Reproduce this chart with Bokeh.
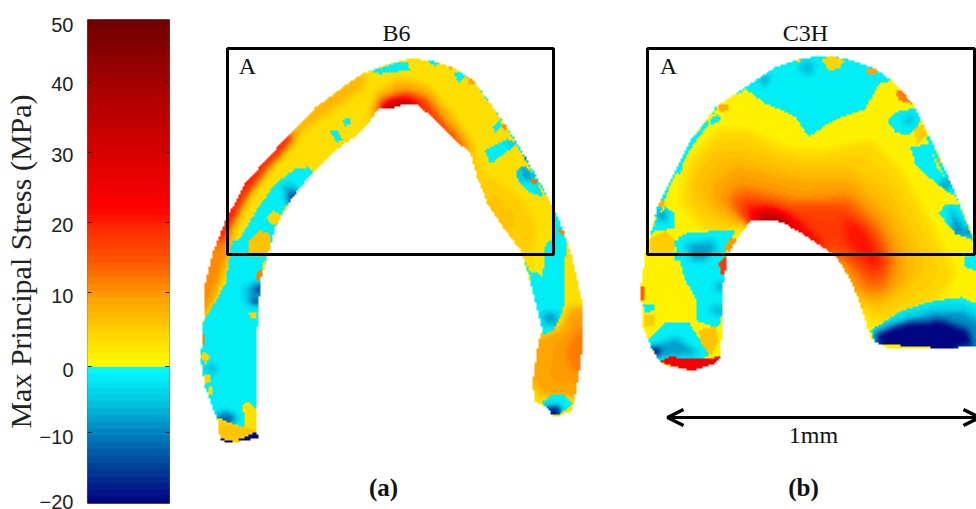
import numpy as np
from bokeh.embed import file_html
from bokeh.resources import INLINE
from bokeh.layouts import row
from bokeh.plotting import figure
from bokeh.models import Range1d, LinearColorMapper, FixedTicker, Arrow, OpenHead
from bokeh.core.properties import value as val

# ---------- scale ----------
stress_levels = list(range(-20, 50))
bar_anchor_mpa = [-20, 0, 50]
bar_anchor_y = [502.7, 366, 19.3]
tick_labels = ["50", "40", "30", "20", "10", "0", "\u221210", "\u221220"]
label_y = [24, 83, 154, 224, 295, 369, 436, 501]
tick_mark_y = [82, 152, 222, 292, 366, 432]
stops_mpa = [-20, -15, -10, -5, -0.001, 0, 5, 10, 15, 20, 23, 30, 40, 50]
stops_r = [0, 0, 0, 0, 0, 255, 255, 255, 255, 255, 255, 220, 170, 110]
stops_g = [0, 60, 125, 200, 255, 255, 210, 160, 90, 40, 0, 0, 0, 0]
stops_b = [128, 150, 190, 225, 255, 0, 0, 0, 0, 0, 0, 0, 0, 0]

palette = []
for lv in stress_levels:
    m = lv + 0.5
    palette.append("#%02x%02x%02x" % (int(np.interp(m, stops_mpa, stops_r)),
                                      int(np.interp(m, stops_mpa, stops_g)),
                                      int(np.interp(m, stops_mpa, stops_b))))
mapper = LinearColorMapper(palette=palette, low=-20, high=50, nan_color=(0, 0, 0, 0))

# ---------- outlines and stress regions ----------
Z2, Z3, Z4, Z5, Z6 = (195, 40), (390, 40), (195, 240), (635, 40), (635, 240)
def at(o, pts):
    return [(o[0] + a / 3, o[1] + b / 3) for a, b in pts]

b6_outline = [(220,440),(232,443),(258,437),(257,433),(257,327),(260,280),(267,257),(268,253),(275,227),(292,197),
              (312,172),(335,150),(352,138),(368,123),(378,108),(390,108),(400,105),(418,105),(433,118),(452,137),
              (470,153),(477,177),(487,203),(503,227),(520,250),(523,258),(530,283),(542,330),(538,340),(532,383),
              (535,402),(548,408),(553,417),(560,415),(572,410),(578,377),(583,340),(583,307),(573,263),(572,257),
              (563,230),(553,207),(540,183),(523,153),(507,127),(490,103),(473,80),(453,67),(430,60),(410,58),
              (390,63),(362,73),(342,87),(315,107),(288,135),(265,160),(245,183),(225,220),(212,253),(205,283),
              (202,340),(200,357),(205,387),(217,420)]
b6_base = 3.0
b6_warm = [
    (6, at(Z3, [(290,400),(400,480),(440,560),(420,640),(350,590),(290,490)])),
    (8, at(Z2, [(50,650),(90,540),(150,430),(210,360),(280,285),(360,200),(440,140),(500,100),(520,130),(440,190),(340,260),(250,340),(170,440),(120,550),(100,650)])),
    (22, at(Z2, [(40,650),(85,530),(145,425),(205,355),(280,280),(300,295),(225,375),(150,475),(100,570),(75,650)])),
    (12, at(Z4, [(40,0),(20,130),(15,240),(30,240),(70,130),(100,40),(100,0)])),
    (9, [(365,122),(376,92),(400,78),(428,86),(450,112),(470,140),(480,170),(490,204),(470,153),(452,137),(433,118),(418,105),(390,108),(378,108)]),
    (20, [(370,118),(382,100),(405,92),(425,98),(440,118),(456,136),(470,153),(452,142),(433,122),(418,107),(390,110),(378,110)]),
    (42, [(378,109),(390,102),(402,100),(414,102),(420,107),(405,108),(390,110)]),
    (16, at(Z3, [(240,340),(260,410),(290,490),(340,560),(320,560),(270,490),(245,410),(220,340)])),
    (10, at(Z4, [(1035,290),(1100,260),(1120,200),(1165,200),(1165,320),(1150,420),(1140,470),(1040,470),(1015,430),(1025,340)])),
    (13, at(Z4, [(1110,330),(1170,230),(1170,380),(1130,400)])),
    (7, at(Z4, [(25,580),(70,545),(180,555),(190,580),(100,600)])),
]
b6_cold_regions = [
    at(Z2, [(115,660),(130,600),(190,500),(240,430),(300,385),(340,380),(355,400),(300,470),(270,500),(250,540),(225,660)]),
    at(Z4, [(110,0),(90,130),(45,210),(20,250),(8,400),(60,530),(140,560),(185,560),(190,250),(205,50),(225,0)]),
    at(Z4, [(985,60),(1010,100),(1040,90),(1045,30),(1060,0),(1100,0),(1105,60),(1110,170),(1100,220),(1075,270),(1040,285),(1030,240),(1010,180),(1005,110)]),
    at(Z3, [(490,500),(520,540),(530,650),(460,640),(490,600)]),
    at(Z4, [(1040,485),(1070,462),(1110,465),(1130,490),(1090,525),(1060,525)]),
    at(Z4, [(125,600),(190,570),(198,590),(150,608)]),
    at(Z4, [(70,595),(110,600),(105,612),(75,605)]),
    at(Z3, [(282,330),(350,295),(380,310),(340,340),(300,370)]),
    at(Z3, [(375,395),(400,375),(430,400),(450,450),(460,470),(425,460),(385,425)]),
    at(Z3, [(305,260),(330,240),(335,255),(315,275)]),
    at(Z3, [(190,95),(220,95),(225,110),(205,125)]),
    at(Z3, [(0,70),(50,65),(60,90),(0,95)]),
    at(Z3, [(110,60),(150,62),(135,78)]),
    at(Z3, [(258,125),(282,150),(322,205),(352,250),(387,310),(422,370),(472,460),(502,500),(495,505),(465,462),(415,375),(380,315),(345,255),(315,210),(272,155)]),
    at(Z2, [(402,275),(425,265),(440,300),(425,305)]),
    at(Z2, [(440,240),(460,230),(468,248),(450,256)]),
    at(Z2, [(525,90),(600,70),(600,95),(550,100)]),
]
b6_cold_deep = [
    (-12, at(Z4, [(60,520),(100,515),(130,535),(90,550)])),
    (-20, at(Z4, [(120,600),(195,565),(200,595),(150,612)])),
    (-20, at(Z4, [(70,595),(110,600),(105,612),(75,605)])),
    (-6, at(Z4, [(150,130),(195,130),(190,200),(150,190)])),
    (-20, at(Z4, [(175,135),(195,135),(190,155),(178,155)])),
    (-20, at(Z4, [(172,175),(192,175),(190,195),(175,195)])),
    (-6, at(Z4, [(30,375),(65,375),(60,400),(35,400)])),
    (-8, at(Z4, [(1040,215),(1085,215),(1080,255),(1050,255)])),
    (-20, at(Z4, [(1055,500),(1095,500),(1085,525),(1065,525)])),
    (-7, at(Z2, [(260,430),(300,430),(300,470),(270,480)])),
    (-20, at(Z2, [(275,475),(300,450),(305,460),(285,490)])),
    (-20, at(Z2, [(435,315),(460,305),(460,315),(440,325)])),
    (-20, at(Z2, [(525,230),(545,215),(548,222),(530,235)])),
    (-6, at(Z3, [(340,310),(380,300),(380,320)])),
    (-18, at(Z3, [(400,345),(415,360),(405,365)])),
    (-18, at(Z3, [(425,395),(440,410),(430,415)])),
    (-18, at(Z3, [(445,440),(462,455),(450,460)])),
    (-8, at(Z3, [(385,385),(415,380),(425,420),(395,420)])),
]
b6_patches = [
    (4, at(Z2, [(215,530),(235,512),(258,525),(250,548),(225,555)])),
    (6, at(Z2, [(160,600),(190,570),(225,580),(225,650),(160,650)])),
    (3, at(Z4, [(140,490),(165,485),(190,520),(180,565),(150,560)])),
    (4, at(Z4, [(13,345),(30,335),(47,350),(30,370)])),
    (12, at(Z4, [(12,280),(30,280),(30,310),(12,310)])),
    (4, at(Z4, [(25,400),(45,405),(45,425),(30,430)])),
    (12, at(Z4, [(180,95),(205,90),(205,120),(185,120)])),
    (4, at(Z4, [(160,215),(185,215),(185,235),(165,235)])),
    (3, at(Z4, [(40,440),(52,440),(52,460),(42,460)])),
    (9, at(Z3, [(230,110),(250,115),(252,135),(235,135)])),
    (11, at(Z3, [(335,250),(350,255),(345,270),(335,265)])),
    (13, at(Z3, [(420,415),(442,420),(440,435),(425,432)])),
    (12, at(Z3, [(505,565),(522,570),(520,585),(508,585)])),
    (2, at(Z4, [(1010,40),(1050,40),(1040,110),(1020,90)])),
    (8, at(Z3, [(168,75),(190,78),(182,90)])),
]

c3h_outline = [(645,253),(658,203),(672,177),(692,137),(715,107),(745,87),(775,67),(802,58),(828,55),(852,60),
               (875,68),(895,83),(912,103),(928,133),(945,170),(962,210),(976,243),(984,252),(984,345),(976,345),
               (958,347),(902,349),(888,348),(872,340),(867,328),(862,310),(852,283),(838,260),(832,253),(808,237),
               (782,222),(768,219),(750,220),(738,237),(728,253),(727,257),(723,283),(722,323),(720,357),(715,363),
               (692,370),(662,364),(652,350),(643,327),(640,290)]
c3h_base = 1.2
c3h_warm = [
    (5, [(720,130),(745,130),(790,150),(808,150),(830,150),(870,140),(900,170),(925,215),(945,253),(955,275),(935,300),(900,315),(875,325),(860,300),(840,260),(800,235),(770,219),(745,222),(720,235),(700,225),(680,200),(690,160)]),
    (7, [(715,150),(745,150),(800,165),(850,165),(890,190),(915,235),(925,270),(900,295),(870,310),(855,290),(835,255),(770,219),(745,225),(720,220),(695,200),(695,175)]),
    (10, [(735,165),(800,180),(850,180),(885,210),(905,250),(905,280),(880,300),(862,300),(845,265),(775,220),(745,225),(715,205),(710,185)]),
    (14, [(740,185),(800,200),(850,195),(880,225),(895,260),(885,290),(865,290),(845,260),(775,222),(745,222),(725,200)]),
    (18, [(745,197),(790,207),(845,205),(875,235),(885,265),(875,280),(855,265),(830,245),(775,222),(745,222),(735,205)]),
    (22, [(845,217),(865,225),(885,262),(875,270),(845,240)]),
    (24, [(745,205),(775,207),(805,225),(832,250),(808,240),(782,226),(750,224)]),
    (44, [(752,218),(770,213),(785,218),(798,230),(782,224),(768,221)]),
]
c3h_cold_regions = [
    at(Z5, [(330,145),(390,190),(440,210),(480,230),(520,290),(570,255),(620,230),(690,205),(730,130),(770,120),(780,30),(500,20),(300,60),(250,170),(230,230),(255,175),(310,160)]),
    at(Z5, [(755,240),(790,210),(840,205),(860,240),(820,285),(780,275)]),
    at(Z5, [(825,320),(880,310),(905,380),(970,470),(930,450),(880,410),(840,370)]),
    at(Z5, [(910,520),(930,490),(970,490),(1015,600),(960,580)]),
    at(Z5, [(40,590),(60,570),(115,565),(120,520),(90,500),(65,530)]),
    at(Z5, [(115,660),(130,590),(165,575),(300,570),(260,660)]),
    at(Z6, [(115,0),(150,120),(185,180),(180,240),(250,262),(265,200),(270,0)]),
    at(Z6, [(35,300),(90,245),(160,245),(225,350),(70,360)]),
    at(Z6, [(22,190),(60,190),(60,210),(30,215)]),
    at(Z6, [(985,50),(1023,40),(1023,90),(990,80)]),
    at(Z5, [(105,395),(135,340),(150,345),(135,400)]),
    at(Z5, [(222,235),(250,220),(255,240),(230,255)]),
    at(Z5, [(55,530),(90,430),(165,300),(215,240),(222,250),(175,310),(105,430),(70,530)]),
    at(Z5, [(880,285),(930,390),(975,480),(965,480),(920,395),(870,290)]),
    at(Z6, [(705,270),(800,210),(900,180),(980,170),(1023,190),(1023,330),(720,310)]),
]
c3h_cold_deep = [
    (-4, at(Z6, [(720,268),(810,220),(900,195),(985,190),(1023,215),(1023,330),(720,310)])),
    (-9, at(Z6, [(725,275),(810,240),(900,215),(985,215),(1023,240),(1023,330),(725,310)])),
    (-20, at(Z6, [(720,280),(800,250),(920,240),(1000,270),(1010,318),(800,330),(735,310)])),
    (-7, at(Z5, [(370,110),(400,100),(400,130),(375,135)])),
    (-6, at(Z5, [(490,70),(540,65),(530,100),(500,100)])),
    (-5, at(Z5, [(800,230),(840,220),(835,250),(805,255)])),
    (-6, at(Z5, [(150,610),(230,595),(250,630),(170,650)])),
    (-8, at(Z6, [(150,10),(240,10),(210,60),(170,60)])),
    (-8, at(Z6, [(50,320),(120,290),(190,340),(70,350)])),
    (-20, at(Z6, [(50,320),(70,320),(75,345),(55,345)])),
    (-7, at(Z6, [(235,130),(265,125),(265,150),(240,150)])),
    (-7, at(Z6, [(225,200),(262,195),(260,220),(230,220)])),
    (-8, at(Z5, [(915,420),(945,415),(945,445),(920,445)])),
    (-9, at(Z5, [(945,500),(985,560),(980,600),(950,560)])),
    (-9, at(Z5, [(70,510),(95,515),(90,540),(70,540)])),
    (-20, at(Z5, [(985,565),(1005,575),(1000,590)])),
    (-20, at(Z6, [(690,205),(705,205),(705,225),(692,225)])),
]
c3h_patches = [
    (4, at(Z5, [(557,55),(590,47),(630,60),(610,85),(580,90)])),
    (9, at(Z5, [(690,85),(720,80),(725,100),(700,100)])),
    (12, at(Z5, [(780,150),(810,145),(830,190),(790,180)])),
    (5, at(Z5, [(835,265),(865,250),(875,285),(845,310)])),
    (5, at(Z5, [(45,595),(90,570),(118,600),(115,640),(45,640)])),
    (10, at(Z5, [(265,625),(285,590),(310,600),(290,640)])),
    (18, at(Z6, [(250,70),(270,50),(275,90),(260,110)])),
    (14, at(Z6, [(15,140),(30,140),(30,180),(15,180)])),
    (5, at(Z6, [(25,225),(55,225),(60,260),(30,260)])),
    (6, at(Z6, [(190,270),(240,258),(250,300),(225,345),(195,305)])),
    (24, at(Z6, [(70,365),(100,350),(225,355),(255,345),(255,365),(170,392)])),
    (5, at(Z5, [(470,55),(495,55),(490,70)])),
    (8, at(Z5, [(245,195),(275,190),(280,210),(255,215)])),
    (8, at(Z5, [(70,480),(90,480),(90,500),(72,500)])),
    (10, at(Z6, [(650,120),(665,130),(665,160),(652,150)])),
    (7, at(Z6, [(670,180),(690,180),(690,205),(675,200)])),
    (8, at(Z5, [(905,355),(915,355),(915,375)])),
]

# ---------- raster ----------
CELL = 2.0
gx = np.arange(178, 984, CELL) + CELL / 2
gy = np.arange(8, 509, CELL) + CELL / 2
X, Y = np.meshgrid(gx, gy)

def inside(poly):
    px = np.array([q[0] for q in poly]); py = np.array([q[1] for q in poly])
    res = np.zeros(X.shape, bool)
    j = len(px) - 1
    for i in range(len(px)):
        if py[i] != py[j]:
            c = ((py[i] > Y) != (py[j] > Y)) & (X < (px[j] - px[i]) * (Y - py[i]) / (py[j] - py[i]) + px[i])
            res ^= c
        j = i
    return res

def blur(F, M, s):
    r = int(3 * s) + 1
    k = np.exp(-0.5 * (np.arange(-r, r + 1) / s) ** 2)
    def conv(A):
        A = np.apply_along_axis(lambda v: np.convolve(v, k, "same"), 0, A)
        return np.apply_along_axis(lambda v: np.convolve(v, k, "same"), 1, A)
    return conv(F * M) / np.maximum(conv(M.astype(float)), 1e-9)

def build(outline, base, warm, cold_regions, cold_deep, patches, sigma):
    M = inside(outline)
    W = np.full(X.shape, float(base))
    for v, poly in warm:
        W[inside(poly)] = v
    W = blur(W, M, sigma)
    cm = np.zeros(X.shape, bool)
    for poly in cold_regions:
        cm |= inside(poly)
    C = np.full(X.shape, -1.5)
    for v, poly in cold_deep:
        C[inside(poly)] = v
    C = blur(C, cm, 1.6)
    Z = np.where(cm, np.minimum(C, -0.2), W)
    P = Z.copy()
    pm = np.zeros(X.shape, bool)
    for v, poly in patches:
        s = inside(poly)
        P[s] = v
        pm |= s
    Z = np.where(pm, P, Z)
    return np.where(M, Z, np.nan)

z1 = build(b6_outline, b6_base, b6_warm, b6_cold_regions, b6_cold_deep, b6_patches, 2.2)
z2 = build(c3h_outline, c3h_base, c3h_warm, c3h_cold_regions, c3h_cold_deep, c3h_patches, 2.6)
field = np.where(np.isnan(z1), z2, z1)

# ---------- colour bar ----------
bar = figure(width=178, height=509, output_backend="svg", toolbar_location=None,
             x_range=Range1d(0, 1), y_range=Range1d(503, 19),
             min_border_left=87, min_border_right=9, min_border_top=19, min_border_bottom=6,
             x_axis_location=None)
bar.grid.visible = False
bar.outline_line_color = "#707070"
bar.quad(left=0, right=1,
         top=np.interp(np.array(stress_levels) + 1, bar_anchor_mpa, bar_anchor_y),
         bottom=np.interp(np.array(stress_levels), bar_anchor_mpa, bar_anchor_y),
         fill_color=palette, line_color=palette, line_width=1)
bar.segment(x0=0, x1=0.05, y0=tick_mark_y, y1=tick_mark_y, line_color="#222222", line_width=1)
bar.segment(x0=0.95, x1=1, y0=tick_mark_y, y1=tick_mark_y, line_color="#222222", line_width=1)
ax = bar.yaxis[0]
ax.ticker = FixedTicker(ticks=label_y)
ax.major_label_overrides = dict(zip(label_y, tick_labels))
ax.major_tick_line_color = None
ax.minor_tick_line_color = None
ax.axis_line_color = None
ax.major_label_standoff = 8
ax.major_label_text_font = "Liberation Sans"
ax.major_label_text_font_size = "20px"
ax.major_label_text_color = "#222222"
ax.axis_label = "Max Principal Stress (MPa)"
ax.axis_label_text_font = "Liberation Serif"
ax.axis_label_text_font_style = "normal"
ax.axis_label_text_font_size = "30px"
ax.axis_label_text_color = "#222222"
ax.axis_label_standoff = 0

# ---------- maps ----------
p = figure(width=798, height=509, output_backend="svg", toolbar_location=None,
           x_range=Range1d(178, 976), y_range=Range1d(503, 19),
           min_border_left=0, min_border_right=0, min_border_top=19, min_border_bottom=6,
           x_axis_location=None, y_axis_location=None)
p.grid.visible = False
p.outline_line_color = None
p.image(image=[field], x=178, y=8, dw=len(gx) * CELL, dh=len(gy) * CELL, color_mapper=mapper)
p.quad(left=[227, 647], right=[553, 974], top=[48, 48], bottom=[254, 254],
       fill_color=None, line_color="black", line_width=3)
names = ["B6", "C3H", "A", "A", "1mm"]
p.text(x=[396, 805, 247, 668, 813], y=[32, 32, 65, 65, 434], text=names,
       text_font=val("Liberation Serif"), text_font_size="24px",
       text_align="center", text_baseline="middle", text_color="#111111")
p.text(x=[383, 803], y=[487, 487], text=["(a)", "(b)"],
       text_font=val("Liberation Serif"), text_font_style="bold", text_font_size="25px",
       text_align="center", text_baseline="middle", text_color="#111111")
p.add_layout(Arrow(start=OpenHead(size=16, line_width=3.5), end=OpenHead(size=16, line_width=3.5),
                   x_start=667, y_start=417, x_end=979, y_end=417, line_width=3, line_color="black"))

open("out.html", "w").write(file_html(row(bar, p), INLINE))
